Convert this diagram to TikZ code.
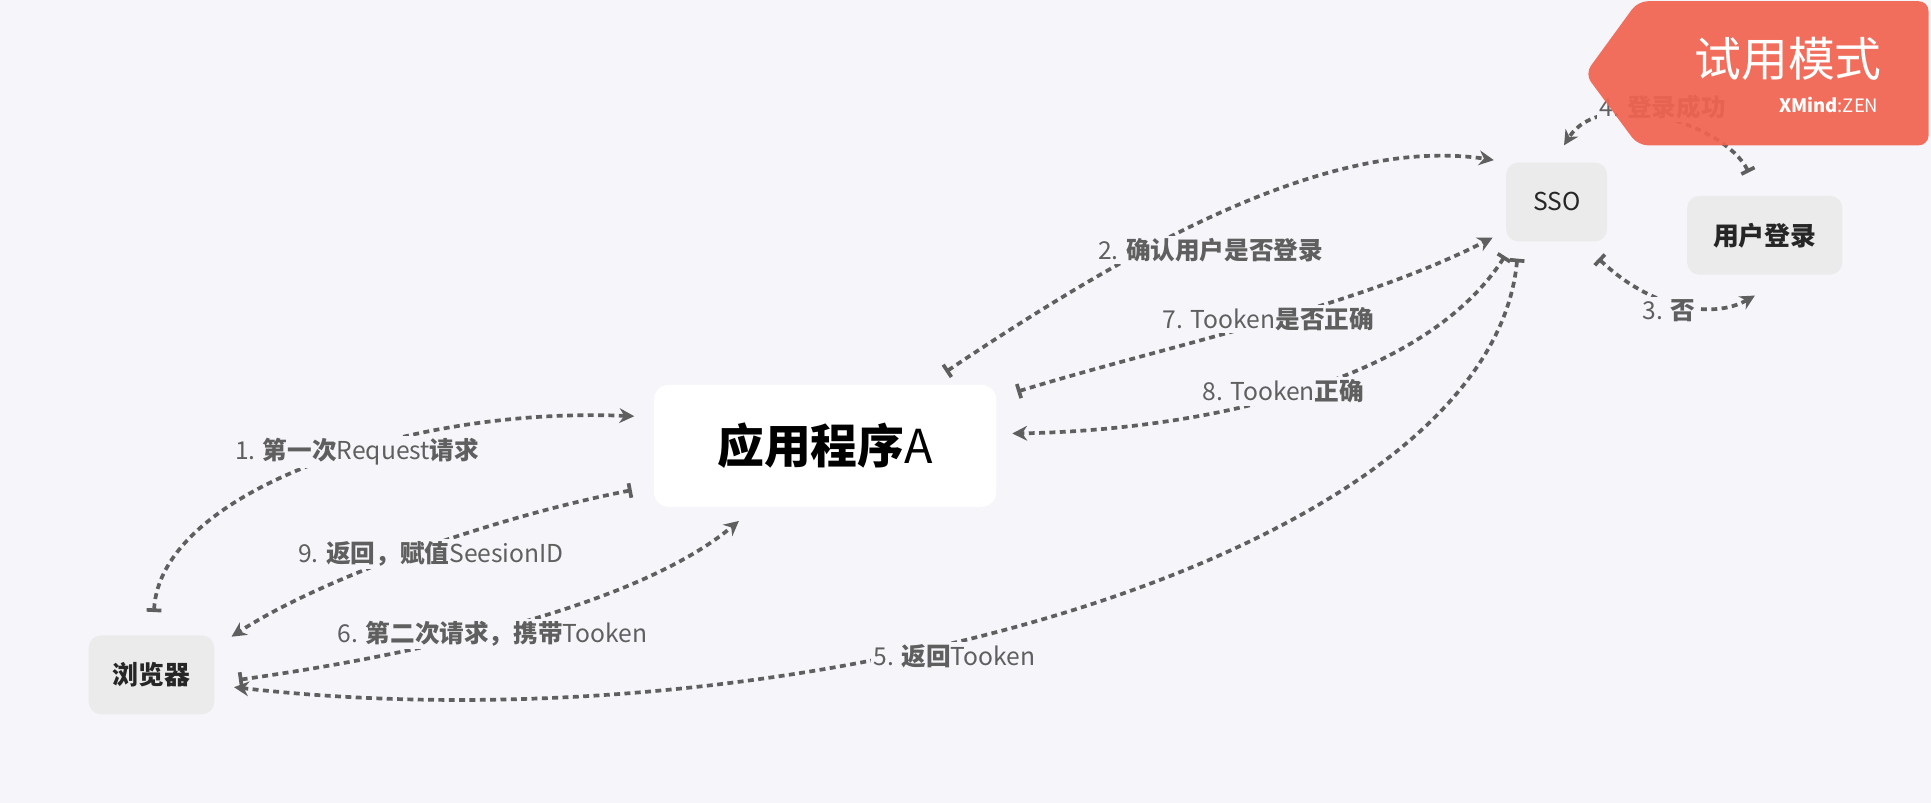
\documentclass[tikz,border=0pt]{standalone}
\usepackage{fontspec}
\setmainfont{Noto Sans CJK SC}
\usetikzlibrary{arrows.meta}
\definecolor{bg}{HTML}{F5F5FA}
\definecolor{ln}{HTML}{5F5F5F}
\definecolor{box}{HTML}{EBEBEB}
\definecolor{badge}{HTML}{F26451}
\tikzset{
  conn/.style={ln, line width=1.5pt, dash pattern=on 2.4pt off 1.8pt, {Bar[width=6pt,line width=1.5pt]}-{Stealth[length=6pt,width=6pt]}},
  lbl/.style={fill=bg, text=ln, font=\fontsize{10pt}{12pt}\selectfont, inner sep=1pt},
  gbox/.style={fill=box, rounded corners=5pt, text=black!85, font=\bfseries\fontsize{10.5pt}{12pt}\selectfont}
}
\begin{document}
\begin{tikzpicture}[x=0.5pt,y=-0.5pt]
\fill[bg] (0,0) rectangle (1568,652);
\useasboundingbox (0,0) rectangle (1568,652);
\node[fill=white, rounded corners=6pt, minimum width=139pt, minimum height=49.5pt, font=\bfseries\fontsize{19pt}{21pt}\selectfont] (app) at (670,362) {应用程序\mdseries A};
\node[gbox, minimum width=51pt, minimum height=32pt] (br) at (123,548) {浏览器};
\node[gbox, minimum width=41pt, minimum height=32pt, font=\fontsize{10pt}{12pt}\selectfont] (sso) at (1264,164) {SSO};
\node[gbox, minimum width=63pt, minimum height=32pt] (ul) at (1433,191) {用户登录};
\coordinate (a1s) at (125,497); \coordinate (a1e) at (515,338);
\coordinate (a9s) at (513,398); \coordinate (a9e) at (188,517);
\coordinate (a6s) at (194,552); \coordinate (a6e) at (600,423);
\coordinate (a5s) at (1232,210); \coordinate (a5e) at (190,558);
\coordinate (a2s) at (768,302); \coordinate (a2e) at (1213,130);
\coordinate (a7s) at (826,318); \coordinate (a7e) at (1212,193);
\coordinate (a8s) at (1222,208); \coordinate (a8e) at (822,352);
\coordinate (a3s) at (1298,210); \coordinate (a3e) at (1425,240);
\coordinate (a4s) at (1420,140); \coordinate (a4e) at (1270,118);
\draw[conn] (a1s) .. controls (130,400) and (330,330) .. (a1e);
\draw[conn] (a9s) .. controls (400,420) and (260,470) .. (a9e);
\draw[conn] (a6s) .. controls (350,530) and (520,490) .. (a6e);
\draw[conn] (a5s) .. controls (1210,450) and (650,610) .. (a5e);
\draw[conn] (a2s) .. controls (920,200) and (1080,110) .. (a2e);
\draw[conn] (a7s) .. controls (950,280) and (1100,250) .. (a7e);
\draw[conn] (a8s) .. controls (1150,320) and (950,350) .. (a8e);
\draw[conn] (a3s) .. controls (1340,250) and (1390,260) .. (a3e);
\draw[conn] (a4s) .. controls (1400,100) and (1300,70) .. (a4e);
\node[lbl] (l1) at (290,367) {1. \textbf{第一次}Request\textbf{请求}};
\node[lbl] (l9) at (350,450) {9. \textbf{返回，赋值}SeesionID};
\node[lbl] (l6) at (400,515) {6. \textbf{第二次请求，携带}Tooken};
\node[lbl] (l5) at (775,533) {5. \textbf{返回}Tooken};
\node[lbl] (l2) at (983,203) {2. \textbf{确认用户是否登录}};
\node[lbl] (l7) at (1030,259) {7. Tooken\textbf{是否正确}};
\node[lbl] (l8) at (1042,318) {8. Tooken\textbf{正确}};
\node[lbl] (l3) at (1355,252) {3. \textbf{否}};
\node[lbl] (l4) at (1350,87) {4. \textbf{登录成功}};
\fill[badge, opacity=0.93, rounded corners=4pt] (1330,1) -- (1566,1) -- (1566,118) -- (1330,118) -- (1287,60) -- cycle;
\node[text=white, font=\fontsize{19pt}{21pt}\selectfont] (bt) at (1452,48) {试用模式};
\node[text=white, font=\fontsize{7.5pt}{9pt}\selectfont] (bx) at (1485,85) {\textbf{XMind}:ZEN};
\end{tikzpicture}
\end{document}
